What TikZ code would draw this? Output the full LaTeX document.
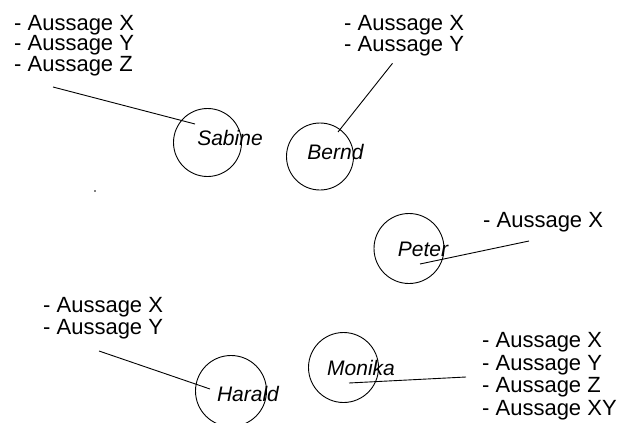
\documentclass[tikz,border=0pt]{standalone}
\usepackage{fontspec}
\setmainfont{Liberation Sans}
\usetikzlibrary{positioning}

\begin{document}
\begin{tikzpicture}[x=1pt,y=-1pt]
\useasboundingbox (0,0) rectangle (624,423);

\begin{scope}[every node/.style={circle,draw=black,line width=0.9pt,inner sep=0pt}]
    \node (sabine) at (207.5, 142.5) [minimum size=68pt] {};
    \node (bernd)  at (320, 156.5)   [minimum size=67pt] {};
    \node (peter)  at (409, 248.5)   [minimum size=70pt] {};
    \node (monika) at (343.5, 367.5) [minimum size=70pt] {};
    \node (harald) at (231, 391)     [minimum size=71pt] {};
\end{scope}

\begin{scope}[every node/.style={anchor=base,inner sep=0pt,font=\fontsize{21}{21}\selectfont\itshape}]
    \node (sabineName) at (230, 145)   {Sabine};
    \node (berndName)  at (335.5, 159) {Bernd};
    \node (peterName)  at (423, 256)   {Peter};
    \node (monikaName) at (361, 375)   {Monika};
    \node (haraldName) at (248, 401)   {Harald};
\end{scope}

% placed at the baseline of the last line
\begin{scope}[every node/.style={anchor=base west,inner sep=0pt,align=left,font=\fontsize{22}{20.5}\selectfont}]
    \node (sabineText) at (14, 71)  {- Aussage X\\- Aussage Y\\- Aussage Z};
    \node (berndText)  at (344, 51) {- Aussage X\\- Aussage Y};
    \node (peterText)  at (483, 227) {- Aussage X};
    \node (haraldText) at (43, 334) [font=\fontsize{22}{22}\selectfont] {- Aussage X\\- Aussage Y};
    \node (monikaText) at (482, 415) [font=\fontsize{22}{22.5}\selectfont] {- Aussage X\\- Aussage Y\\- Aussage Z\\- Aussage XY};
\end{scope}

% line ends
\coordinate (sabineTip) at (53, 87);
\coordinate (sabineEnd) at (195, 124);
\coordinate (berndTip)  at (392.5, 63.3);
\coordinate (berndEnd)  at (338, 132);
\coordinate (peterTip)  at (529, 241);
\coordinate (peterEnd)  at (420, 264);
\coordinate (monikaTip) at (466, 377);
\coordinate (monikaEnd) at (349, 383);
\coordinate (haraldTip) at (99, 351);
\coordinate (haraldEnd) at (210, 389);

\begin{scope}[every edge/.style={draw=black,line width=0.9pt}]
    \path (sabineTip) edge (sabineEnd);
    \path (berndTip)  edge (berndEnd);
    \path (peterTip)  edge (peterEnd);
    \path (monikaTip) edge (monikaEnd);
    \path (haraldTip) edge (haraldEnd);
\end{scope}

\fill (95, 191) circle (0.9pt);
\end{tikzpicture}
\end{document}
